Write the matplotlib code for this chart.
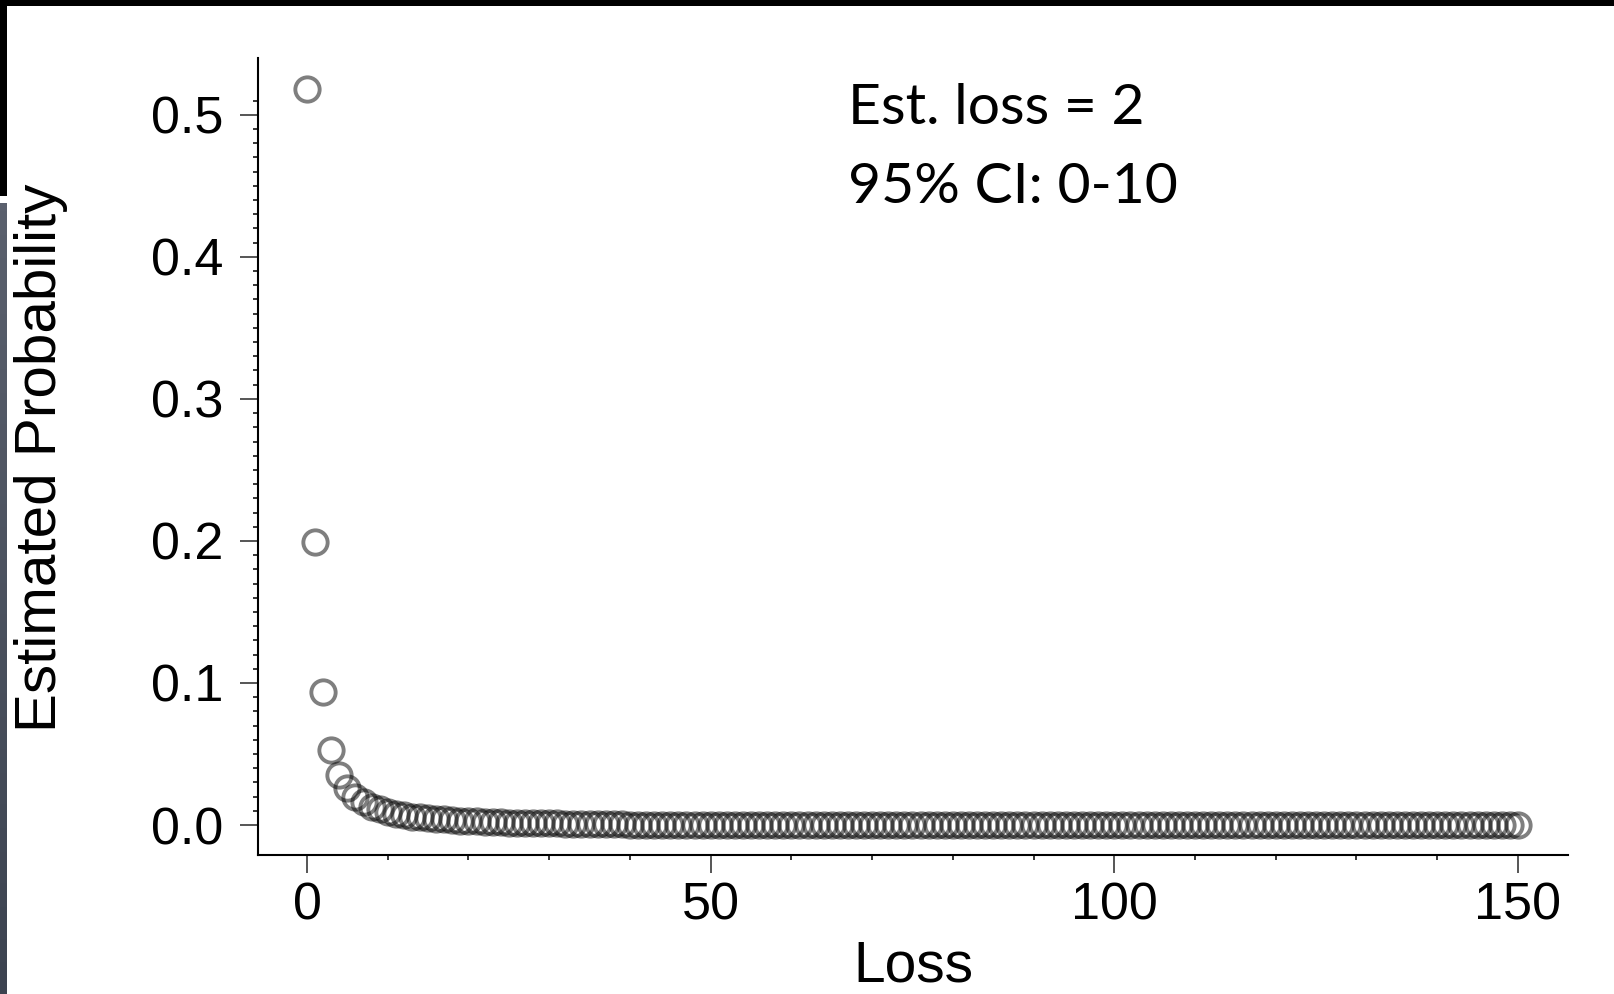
import numpy as np
import matplotlib
matplotlib.use("Agg")
import matplotlib.pyplot as plt
from matplotlib.patches import Rectangle

# Data
LOSS = list(range(0, 151))
PROB_HEAD = [0.518, 0.199, 0.094, 0.053, 0.035, 0.026, 0.020, 0.016, 0.013, 0.011,
             0.009, 0.008, 0.007, 0.006, 0.0055, 0.005, 0.0045, 0.004, 0.0035, 0.003,
             0.0028, 0.0025, 0.0023, 0.0021, 0.0019, 0.0017, 0.0016, 0.0015, 0.0014, 0.0013,
             0.0012, 0.0011, 0.001, 0.001, 0.0009, 0.0009, 0.0008, 0.0008, 0.0007, 0.0007]
PROB_TAIL = [0.0] * (len(LOSS) - len(PROB_HEAD))
PROB = PROB_HEAD + PROB_TAIL

X_TICKS = [0, 50, 100, 150]
Y_TICKS = [0.0, 0.1, 0.2, 0.3, 0.4, 0.5]
ANNOT_1 = "Est. loss = 2"
ANNOT_2 = "95% CI: 0-10"

W, H = 1615, 994
fig = plt.figure(figsize=(W / 100, H / 100), dpi=100)
fig.patch.set_facecolor("white")

# slide frame bits (top bar + left strip)
fig.add_artist(Rectangle((0, 1 - 6 / H), 1, 6 / H, transform=fig.transFigure,
                         color="black", lw=0))
fig.add_artist(Rectangle((0, 1 - 196 / H), 7 / W, 196 / H, transform=fig.transFigure,
                         color="black", lw=0))
strip = fig.add_axes([0, 0, 7 / W, (H - 203) / H])
grad = np.linspace(0, 1, 100).reshape(-1, 1)
strip.imshow(grad, aspect="auto", cmap=matplotlib.colors.LinearSegmentedColormap.from_list(
    "s", ["#5a606d", "#3c4350"]), origin="upper")
strip.axis("off")

# main axes
left, right, top, bottom = 258, 1568, 58, 855
ax = fig.add_axes([left / W, 1 - bottom / H, (right - left) / W, (bottom - top) / H])

ax.plot(LOSS, PROB, linestyle="none", marker="o", markersize=17.5,
        markerfacecolor="none", markeredgecolor="black", markeredgewidth=2.8,
        alpha=0.5, clip_on=False)

ax.set_xlim(-6.07, 156.2)
ax.set_ylim(-0.0211, 0.540)

ax.spines["top"].set_visible(False)
ax.spines["right"].set_visible(False)
for s in ["left", "bottom"]:
    ax.spines[s].set_linewidth(1.5)
    ax.spines[s].set_color("black")

ax.set_xticks(X_TICKS)
ax.set_xticklabels([str(v) for v in X_TICKS])
ax.set_yticks(Y_TICKS)
ax.set_yticklabels([f"{v:.1f}" for v in Y_TICKS])
ax.set_xticks(np.arange(-0, 151, 10), minor=True)
ax.set_yticks(np.arange(0, 0.515, 0.01), minor=True)

ax.tick_params(which="major", length=13, width=1.4, color="#555555",
               labelsize=37.5, pad=12)
ax.tick_params(axis="x", which="major", pad=6)
ax.tick_params(which="minor", length=3.6, width=1.1, color="black")
for lab in ax.get_xticklabels() + ax.get_yticklabels():
    lab.set_fontfamily("Liberation Sans")

fig.text(41 / W, 1 - 458 / H, "Estimated Probability", rotation=90,
         ha="center", va="center", fontsize=42, family="Liberation Sans")
fig.text(913 / W, 1 - 981 / H, "Loss", ha="center", va="baseline",
         fontsize=41, family="Liberation Sans")

fig.text(848 / W, 1 - 124 / H, ANNOT_1, ha="left", va="baseline",
         fontsize=41, family="Lato")
fig.text(848 / W, 1 - 203 / H, ANNOT_2, ha="left", va="baseline",
         fontsize=41, family="Lato")

fig.savefig("out.png", dpi=100)
